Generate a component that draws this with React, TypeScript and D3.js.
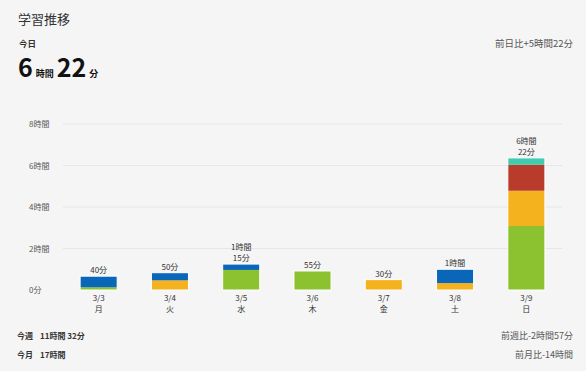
import React from 'react';
import * as d3 from 'd3';

const days = ['3/3', '3/4', '3/5', '3/6', '3/7', '3/8', '3/9'];
const weekdays = ['月', '火', '水', '木', '金', '土', '日'];
const totalLabels = [['40分'], ['50分'], ['1時間', '15分'], ['55分'], ['30分'], ['1時間'], ['6時間', '22分']];

// minutes per subject
const greenMin = [8, 0, 58, 55, 0, 0, 185];
const orangeMin = [0, 28, 0, 0, 30, 20, 102];
const redMin = [0, 0, 0, 0, 0, 0, 75];
const blueMin = [32, 22, 17, 0, 0, 40, 0];
const tealMin = [0, 0, 0, 0, 0, 0, 20];

const yTicks = [0, 120, 240, 360, 480];
const yTickLabels = ['0分', '2時間', '4時間', '6時間', '8時間'];

const seriesKeys = ['green', 'orange', 'red', 'blue', 'teal'];
const seriesColors = ['#8cc230', '#f4b21f', '#b83b2b', '#0a66b8', '#43c9ae'];

const W = 586;
const H = 371;
const FONT = '"Noto Sans CJK JP", "Noto Sans", sans-serif';

export default function App() {
  const margin = { top: 124, left: 63, right: 24, bottom: 81 };
  const plotW = W - margin.left - margin.right;
  const y0 = H - margin.bottom;

  const rows = days.map((d, i) => ({
    day: d,
    green: greenMin[i],
    orange: orangeMin[i],
    red: redMin[i],
    blue: blueMin[i],
    teal: tealMin[i],
  }));

  const stack = d3.stack<any>().keys(seriesKeys)(rows);

  const x = d3.scaleBand().domain(days).range([margin.left, margin.left + plotW]).paddingInner(0.48).paddingOuter(0.24);
  const y = d3.scaleLinear().domain([0, 480]).range([y0, margin.top]);

  const totals = rows.map((r) => r.green + r.orange + r.red + r.blue + r.teal);

  return (
    <svg width={W} height={H} style={{ position: 'absolute', left: 0, top: 0, background: '#f5f5f5', fontFamily: FONT }}>
      <rect width={W} height={H} fill="#f5f5f5" />
      <text x={18} y={24} fontSize={13} fill="#333">学習推移</text>
      <text x={19} y={47} fontSize={8.5} fontWeight="bold" fill="#333">今日</text>
      <text x={18} y={77} fill="#111">
        <tspan fontSize={25} fontWeight="bold">6</tspan>
        <tspan fontSize={9} fontWeight="bold" dx={3}>時間</tspan>
        <tspan fontSize={25} fontWeight="bold" dx={3}>22</tspan>
        <tspan fontSize={9} fontWeight="bold" dx={3}>分</tspan>
      </text>
      <text x={573} y={47} fontSize={9.5} fill="#555" textAnchor="end">前日比+5時間22分</text>

      {yTicks.map((t, i) => (
        <g key={t}>
          {i > 0 && <line x1={margin.left} x2={W - margin.right} y1={y(t)} y2={y(t)} stroke="#e6e6e6" strokeWidth={1} />}
          <text x={29} y={y(t) + 3} fontSize={8} fill="#555">{yTickLabels[i]}</text>
        </g>
      ))}

      {stack.map((s, si) => (
        <g key={s.key} fill={seriesColors[si]}>
          {s.map((d, i) =>
            d[1] - d[0] > 0 ? (
              <rect key={i} x={x(days[i])} width={x.bandwidth()} y={y(d[1])} height={y(d[0]) - y(d[1])} />
            ) : null
          )}
        </g>
      ))}
      {days.map((d, i) => (
        <rect key={d} x={x(d)} width={x.bandwidth()} y={y(totals[i])} height={y0 - y(totals[i])} fill="none" stroke="#fff" strokeWidth={1} />
      ))}

      {days.map((d, i) => {
        const cx = (x(d) as number) + x.bandwidth() / 2;
        const lines = totalLabels[i];
        const top = y(totals[i]);
        return (
          <g key={d} fontSize={8} fill="#333" textAnchor="middle">
            {lines.map((l, li) => (
              <text key={li} x={cx} y={top - 3 - (lines.length - 1 - li) * 11}>{l}</text>
            ))}
            <text x={cx} y={y0 + 11}>{d}</text>
            <text x={cx} y={y0 + 22}>{weekdays[i]}</text>
          </g>
        );
      })}

      <text x={17} y={339} fontSize={8} fill="#333">
        <tspan fontWeight="bold">今週</tspan>
        <tspan dx={7} fontWeight="bold">11時間 32分</tspan>
      </text>
      <text x={573} y={339} fontSize={9} fill="#555" textAnchor="end">前週比-2時間57分</text>
      <text x={17} y={358} fontSize={8} fill="#333">
        <tspan fontWeight="bold">今月</tspan>
        <tspan dx={7} fontWeight="bold">17時間</tspan>
      </text>
      <text x={573} y={358} fontSize={9} fill="#555" textAnchor="end">前月比-14時間</text>
    </svg>
  );
}
